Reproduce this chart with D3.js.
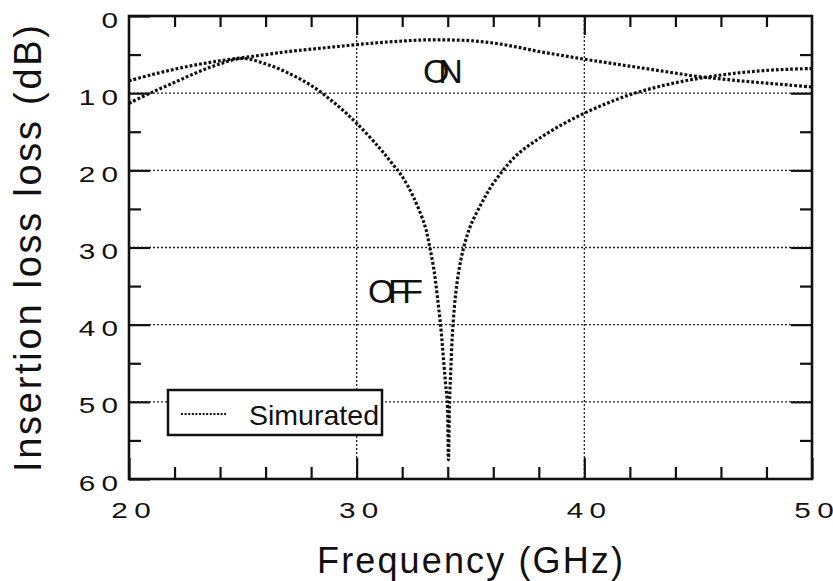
<!DOCTYPE html>
<html>
<head>
<meta charset="utf-8">
<script src="https://cdn.jsdelivr.net/npm/d3@7"></script>
<style>
  html, body { margin: 0; padding: 0; background: #fff; }
  svg { display: block; }
  text { font-family: "Liberation Sans", Arial, Helvetica, sans-serif; fill: #111; }
</style>
</head>
<body>
<svg id="chart" width="833" height="581"></svg>
<script>
// ---- data ----
const onFreq = [20,21,22,23,24,25,26,27,28,29,30,31,32,33,34,35,36,37,38,39,40,41,42,43,44,45,46,47,48,49,50];
const onLoss = [8.4,7.6,6.9,6.3,5.8,5.4,5.0,4.6,4.3,4.0,3.7,3.45,3.25,3.1,3.1,3.2,3.5,4.0,4.6,5.1,5.6,6.05,6.5,6.95,7.4,7.85,8.15,8.45,8.7,8.95,9.2];
const offFreq = [20,21,22,23,24,25,26,27,28,29,30,31,31.5,32,32.5,33,33.2,33.4,33.55,33.7,33.8,33.9,33.98,34.03,34.08,34.14,34.22,34.35,34.5,34.7,35,35.5,36,37,38,39,40,41,42,43,44,45,46,47,48,49,50];
const offLoss = [11.3,9.9,8.6,7.3,6.2,5.5,6.2,7.4,9.0,11.2,13.9,17.1,18.9,20.8,23.5,27.2,29.8,33.0,36.5,40.5,44.0,47.5,50.0,57.5,50.0,45.5,40.5,36.0,32.8,30.0,27.2,24.2,21.7,18.1,15.9,14.1,12.6,11.3,10.2,9.35,8.65,8.1,7.65,7.3,7.05,6.9,6.8];
const xMajor = [20,30,40,50];
const xMinor = [22,24,26,28,32,34,36,38,42,44,46,48];
const yMajor = [0,10,20,30,40,50,60];
const yMinor = [5,15,25,35,45,55];
const xGrid = [30,40];
const yGrid = [10,20,30,40,50];
const curveLabels = ["ON","OFF"];
const curveLabelFreq = [32.91,30.5];
const curveLabelLoss = [8.68,37.2];
const legendLabel = "Simurated";
const xTitle = "Frequency (GHz)";
const yTitle = "Insertion loss loss (dB)";

// ---- layout ----
const W = 833, H = 581;
const m = {left:129, right:21, top:16, bottom:102};
const iw = W - m.left - m.right, ih = H - m.top - m.bottom;
const ink = "#111";

const svg = d3.select("#chart");
svg.append("rect").attr("width",W).attr("height",H).attr("fill","#fff");
const g = svg.append("g").attr("transform",`translate(${m.left},${m.top})`);

const x = d3.scaleLinear().domain([20,50]).range([0,iw]);
const y = d3.scaleLinear().domain([0,60]).range([0,ih]);

// grid
g.append("g").selectAll("line").data(xGrid).join("line")
  .attr("x1",d=>x(d)).attr("x2",d=>x(d)).attr("y1",0).attr("y2",ih)
  .attr("stroke","#222").attr("stroke-width",1.3).attr("stroke-dasharray","2,2");
g.append("g").selectAll("line").data(yGrid).join("line")
  .attr("y1",d=>y(d)).attr("y2",d=>y(d)).attr("x1",0).attr("x2",iw)
  .attr("stroke","#222").attr("stroke-width",1.3).attr("stroke-dasharray","2,2");

// curves
const line = d3.line().x(d=>x(d[0])).y(d=>y(d[1])).curve(d3.curveCatmullRom.alpha(0.5));
const onData = onFreq.map((f,i)=>[f,onLoss[i]]);
const offData = offFreq.map((f,i)=>[f,offLoss[i]]);
[onData, offData].forEach(dat => {
  g.append("path").datum(dat).attr("d",line)
   .attr("fill","none").attr("stroke",ink).attr("stroke-width",3.2)
   .attr("stroke-dasharray","2.8,2");
});

// tick label helper: digits spread apart, glyphs widened
const SX = 1.35, GAP = 4.7;
function spreadLabel(sel, anchor, xoff, ybase){
  sel.each(function(d){
    const t = d3.select(this);
    t.text(null).attr("dy",null).attr("y",ybase)
     .attr("font-size",22).attr("text-anchor",anchor)
     .attr("transform",`scale(${SX},1)`).attr("x",xoff/SX).attr("fill",ink);
    String(d).split("").forEach((c,i)=>{
      t.append("tspan").attr("dx", i ? GAP : null).text(c);
    });
  });
}

function styleAxis(sel){
  sel.select(".domain").remove();
  sel.selectAll(".tick line").attr("stroke",ink).attr("stroke-width",2.2);
}
const MAJ = 21, MIN = 12;
g.append("g").attr("transform",`translate(0,${ih})`)
  .call(d3.axisBottom(x).tickValues(xMajor).tickSizeInner(-MAJ).tickSizeOuter(0).tickFormat(d=>d))
  .call(styleAxis)
  .call(s=>s.selectAll("text").call(spreadLabel,"middle",1.5,39));
g.append("g").attr("transform",`translate(0,${ih})`)
  .call(d3.axisBottom(x).tickValues(xMinor).tickSizeInner(-MIN).tickSizeOuter(0).tickFormat(""))
  .call(styleAxis);
g.append("g")
  .call(d3.axisTop(x).tickValues(xMajor.slice(1,-1)).tickSizeInner(-MAJ+2).tickSizeOuter(0).tickFormat(""))
  .call(styleAxis);
g.append("g")
  .call(d3.axisTop(x).tickValues(xMinor).tickSizeInner(-MIN+1).tickSizeOuter(0).tickFormat(""))
  .call(styleAxis);
g.append("g")
  .call(d3.axisLeft(y).tickValues(yMajor).tickSizeInner(-MAJ).tickSizeOuter(0).tickFormat(d=>d))
  .call(styleAxis)
  .call(s=>s.selectAll("text").call(spreadLabel,"end",-11,11));
g.append("g")
  .call(d3.axisLeft(y).tickValues(yMinor).tickSizeInner(-MIN).tickSizeOuter(0).tickFormat(""))
  .call(styleAxis);
g.append("g").attr("transform",`translate(${iw},0)`)
  .call(d3.axisRight(y).tickValues(yMajor.slice(1,-1)).tickSizeInner(-MAJ).tickSizeOuter(0).tickFormat(""))
  .call(styleAxis);
g.append("g").attr("transform",`translate(${iw},0)`)
  .call(d3.axisRight(y).tickValues(yMinor).tickSizeInner(-MIN).tickSizeOuter(0).tickFormat(""))
  .call(styleAxis);

// frame
g.append("rect").attr("x",0).attr("y",0).attr("width",iw).attr("height",ih)
  .attr("fill","none").attr("stroke",ink).attr("stroke-width",2.6);

// curve labels (tight, overlapping glyphs)
g.append("text").attr("x",x(curveLabelFreq[0])).attr("y",y(curveLabelLoss[0]))
  .attr("font-size",34).attr("textLength",40).attr("lengthAdjust","spacing").text(curveLabels[0]);
g.append("text").attr("x",x(curveLabelFreq[1])).attr("y",y(curveLabelLoss[1]))
  .attr("font-size",34).attr("textLength",55).attr("lengthAdjust","spacing").text(curveLabels[1]);

// legend
const lg = svg.append("g");
lg.append("rect").attr("x",168).attr("y",390).attr("width",214).attr("height",45)
  .attr("fill","#fff").attr("stroke",ink).attr("stroke-width",2.5);
lg.append("line").attr("x1",181).attr("x2",226).attr("y1",414).attr("y2",414)
  .attr("stroke",ink).attr("stroke-width",2).attr("stroke-dasharray","2,1.6");
lg.append("text").attr("x",249).attr("y",425).attr("font-size",28)
  .attr("textLength",130).attr("lengthAdjust","spacingAndGlyphs").text(legendLabel);

// axis titles
svg.append("text").attr("x",317).attr("y",573).attr("font-size",36)
  .attr("textLength",306).attr("lengthAdjust","spacing").text(xTitle);
svg.append("text").attr("transform","translate(41,472) rotate(-90)")
  .attr("x",0).attr("y",0).attr("font-size",38)
  .attr("textLength",447).attr("lengthAdjust","spacing").text(yTitle);
</script>
</body>
</html>
